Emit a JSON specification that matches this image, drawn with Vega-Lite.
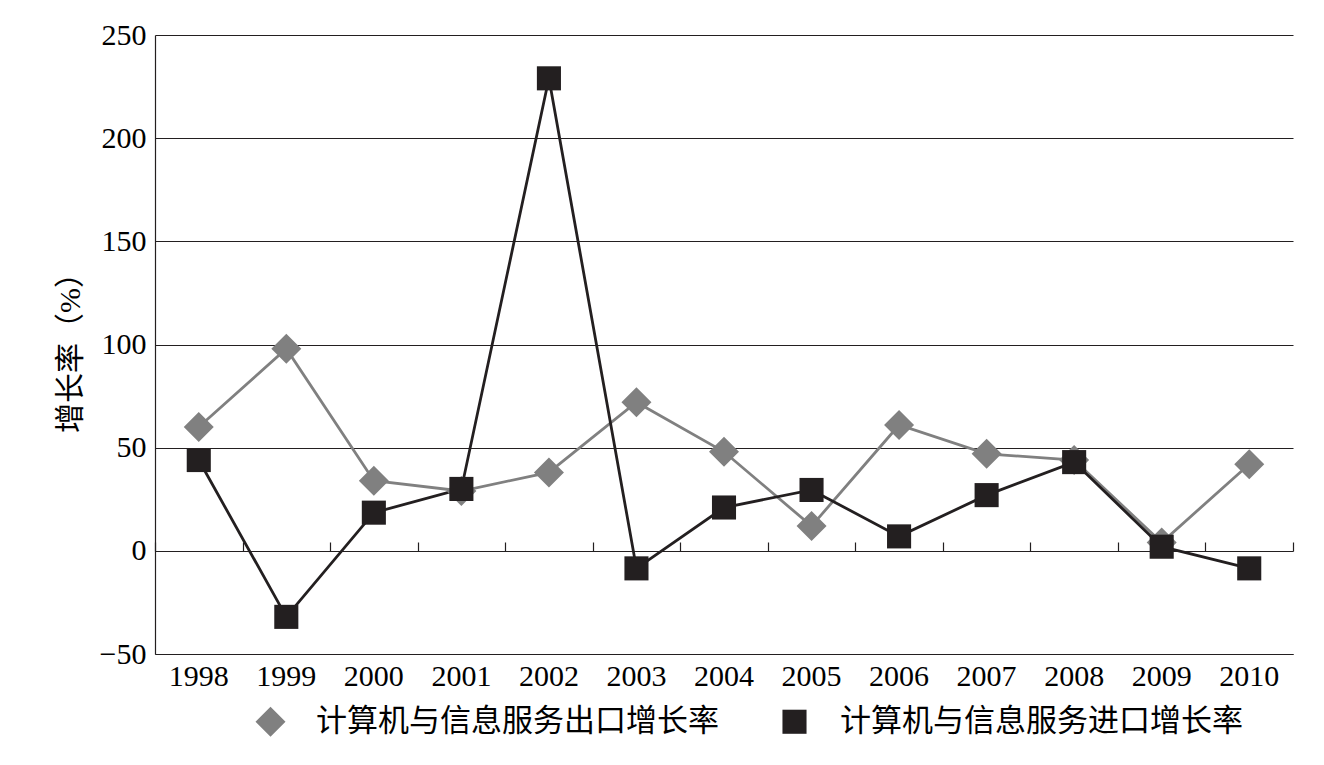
{
  "$schema": "https://vega.github.io/schema/vega-lite/v6.json",
  "width": 1138,
  "height": 619,
  "autosize": {"type": "none"},
  "padding": {"left": 155, "top": 35, "right": 31, "bottom": 111},
  "background": "white",
  "config": {
    "view": {"stroke": null},
    "axis": {"labelColor": "#000000", "titleColor": "#000000", "labelFont": "Liberation Serif", "titleFont": "Liberation Serif, Noto Sans CJK SC"}
  },
  "data": {
    "values": [
      {"year": "1998", "series": "计算机与信息服务出口增长率", "value": 60},
      {"year": "1999", "series": "计算机与信息服务出口增长率", "value": 98},
      {"year": "2000", "series": "计算机与信息服务出口增长率", "value": 34},
      {"year": "2001", "series": "计算机与信息服务出口增长率", "value": 29},
      {"year": "2002", "series": "计算机与信息服务出口增长率", "value": 38},
      {"year": "2003", "series": "计算机与信息服务出口增长率", "value": 72},
      {"year": "2004", "series": "计算机与信息服务出口增长率", "value": 48},
      {"year": "2005", "series": "计算机与信息服务出口增长率", "value": 12},
      {"year": "2006", "series": "计算机与信息服务出口增长率", "value": 61},
      {"year": "2007", "series": "计算机与信息服务出口增长率", "value": 47},
      {"year": "2008", "series": "计算机与信息服务出口增长率", "value": 44},
      {"year": "2009", "series": "计算机与信息服务出口增长率", "value": 4},
      {"year": "2010", "series": "计算机与信息服务出口增长率", "value": 42},
      {"year": "1998", "series": "计算机与信息服务进口增长率", "value": 44},
      {"year": "1999", "series": "计算机与信息服务进口增长率", "value": -32},
      {"year": "2000", "series": "计算机与信息服务进口增长率", "value": 18.5},
      {"year": "2001", "series": "计算机与信息服务进口增长率", "value": 30},
      {"year": "2002", "series": "计算机与信息服务进口增长率", "value": 229},
      {"year": "2003", "series": "计算机与信息服务进口增长率", "value": -8.5},
      {"year": "2004", "series": "计算机与信息服务进口增长率", "value": 21},
      {"year": "2005", "series": "计算机与信息服务进口增长率", "value": 29.5},
      {"year": "2006", "series": "计算机与信息服务进口增长率", "value": 7},
      {"year": "2007", "series": "计算机与信息服务进口增长率", "value": 27},
      {"year": "2008", "series": "计算机与信息服务进口增长率", "value": 43},
      {"year": "2009", "series": "计算机与信息服务进口增长率", "value": 2},
      {"year": "2010", "series": "计算机与信息服务进口增长率", "value": -8.5}
    ]
  },
  "resolve": {"axis": {"x": "independent"}},
  "layer": [
    {
      "mark": {"type": "line", "strokeWidth": 2.8},
      "encoding": {
        "x": {
          "field": "year", "type": "ordinal", "bandPosition": 0.5,
          "scale": {"type": "band", "paddingInner": 0, "paddingOuter": 0},
          "axis": {"title": null, "orient": "bottom", "domain": true, "domainColor": "#231f20", "domainWidth": 1.2, "ticks": false, "labelAngle": 0, "labelFontSize": 30, "labelPadding": 7, "grid": false}
        },
        "y": {
          "field": "value", "type": "quantitative",
          "scale": {"domain": [-50, 250], "nice": false, "zero": false},
          "axis": {"values": [-50, 0, 50, 100, 150, 200, 250], "title": "增长率（%）", "titleFontSize": 30, "titleFontWeight": "normal", "titleX": -85, "titleY": 310, "titleBaseline": "middle", "titleAngle": -90, "domain": true, "domainColor": "#231f20", "domainWidth": 1.2, "ticks": false, "labelFontSize": 30, "labelPadding": 9, "grid": true, "gridColor": "#231f20", "gridWidth": 1.2, "gridOpacity": 1}
        },
        "color": {
          "field": "series", "type": "nominal",
          "scale": {"domain": ["计算机与信息服务出口增长率", "计算机与信息服务进口增长率"], "range": ["#808080", "#231f20"]},
          "legend": {
            "title": null, "orient": "none", "legendX": 100, "legendY": 671, "direction": "horizontal",
            "padding": 0, "columnPadding": 60, "labelOffset": 30, "labelLimit": 0,
            "labelFont": "Noto Sans CJK SC", "labelFontSize": 31, "labelColor": "#000000",
            "symbolStrokeWidth": 0,
            "encode": {
              "symbols": {
                "update": {
                  "strokeWidth": {"value": 0},
                  "opacity": {"value": 1}
                }
              }
            }
          }
        }
      }
    },
    {
      "mark": {"type": "point", "filled": true, "opacity": 1, "strokeWidth": 0},
      "encoding": {
        "x": {
          "field": "year", "type": "ordinal", "bandPosition": 0.5,
          "axis": {"title": null, "orient": "bottom", "offset": -103, "labels": false, "domain": false, "ticks": true, "tickBand": "extent", "tickSize": -9, "tickColor": "#231f20", "tickWidth": 1.2, "grid": false}
        },
        "y": {"field": "value", "type": "quantitative"},
        "color": {"field": "series", "type": "nominal"},
        "shape": {
          "field": "series", "type": "nominal",
          "scale": {"domain": ["计算机与信息服务出口增长率", "计算机与信息服务进口增长率"], "range": ["diamond", "square"]},
          "legend": null
        },
        "size": {
          "field": "series", "type": "nominal",
          "scale": {"domain": ["计算机与信息服务出口增长率", "计算机与信息服务进口增长率"], "range": [900, 580]},
          "legend": null
        }
      }
    }
  ]
}
